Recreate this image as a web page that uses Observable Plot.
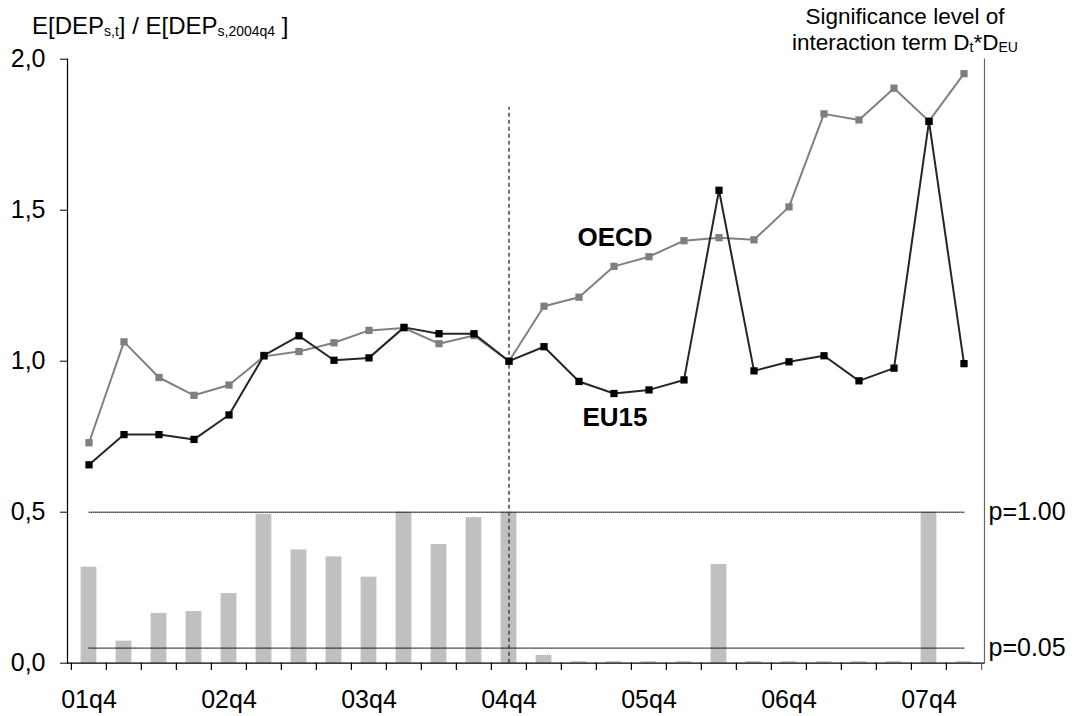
<!DOCTYPE html>
<html>
<head>
<meta charset="utf-8">
<script src="https://cdn.jsdelivr.net/npm/d3@7"></script>
<script src="https://cdn.jsdelivr.net/npm/@observablehq/plot@0.6"></script>
<style>
  html, body { margin: 0; padding: 0; background: #fff; }
  #wrap { position: relative; width: 1074px; height: 716px; font-family: Arial, "Liberation Sans", sans-serif; color: #000; }
  #chart { position: absolute; left: 0; top: 0; }
  .hdr { position: absolute; white-space: nowrap; line-height: 20px; }
  .sub { font-size: 14px; vertical-align: -2px; display: inline-block; line-height: 12px; }
</style>
</head>
<body>
<div id="wrap">
  <div id="chart"></div>
  <div class="hdr" style="left:32px; top:16px; font-size:24px;">E[DEP<span class="sub">s,t</span>] / E[DEP<span class="sub">s,2004q4</span> ]</div>
  <div class="hdr" style="left:755px; width:300px; text-align:center; top:7px; font-size:22.5px; line-height:20px;">Significance level of</div>
  <div class="hdr" style="left:755px; width:300px; text-align:center; top:33px; font-size:22.5px; line-height:20px;">interaction term D<span class="sub">t</span>*D<span class="sub">EU</span></div>
</div>
<script>
const quarters = ["01q4","02q1","02q2","02q3","02q4","03q1","03q2","03q3","03q4","04q1","04q2","04q3","04q4",
                  "05q1","05q2","05q3","05q4","06q1","06q2","06q3","06q4","07q1","07q2","07q3","07q4","08q1"];
const oecd = [0.730,1.064,0.946,0.887,0.921,1.016,1.032,1.061,1.102,1.110,1.058,1.085,1.000,
              1.182,1.212,1.314,1.346,1.399,1.409,1.402,1.511,1.819,1.799,1.904,1.795,1.952];
const eu15 = [0.657,0.757,0.757,0.741,0.822,1.019,1.084,1.003,1.011,1.112,1.091,1.091,1.000,
              1.048,0.933,0.893,0.905,0.938,1.566,0.968,0.998,1.018,0.935,0.977,1.794,0.992];
// significance bars, in left-axis units (0.5 = p=1.00)
const signif = [0.318,0.073,0.165,0.171,0.231,0.493,0.375,0.352,0.285,0.500,0.393,0.482,0.500,
                0.026,0.005,0.005,0.005,0.005,0.327,0.005,0.005,0.005,0.005,0.005,0.500,0.005];
const yTicks = [0, 0.5, 1, 1.5, 2];
const xLabels = quarters.filter(q => q.endsWith("q4"));
const refLevels = [{y: 0.5, label: "p=1.00"}, {y: 0.05, label: "p=0.05"}];
const baseQuarter = "04q4";
const baseLineTop = 1.84;
const seriesLabels = [{q: "05q3", y: 1.408, text: "OECD"}, {q: "05q3", y: 0.812, text: "EU15"}];

const W = 1074, H = 716, mL = 67, mR = 90, mT = 58.7, mB = 53.3;
const bw = (W - mL - mR) / quarters.length;

const oecdData = quarters.map((q, i) => ({q, v: oecd[i]}));
const euData = quarters.map((q, i) => ({q, v: eu15[i]}));
const barData = quarters.map((q, i) => ({q, v: signif[i]}));
const refLines = refLevels.flatMap(r => [{q: quarters[0], y: r.y, k: r.label}, {q: quarters[quarters.length - 1], y: r.y, k: r.label}]);

const chart = Plot.plot({
  width: W, height: H,
  marginLeft: mL, marginRight: mR, marginTop: mT, marginBottom: mB,
  style: {fontFamily: 'Arial, "Liberation Sans", sans-serif', fontSize: "25px", color: "#000", background: "#fff"},
  x: {type: "band", domain: quarters, padding: 0},
  y: {domain: [0, 2]},
  marks: [
    Plot.barY(barData, {x: "q", y: "v", fill: "#c0c0c0", insetLeft: 9.6, insetRight: 9.6}),
    Plot.line(refLines, {x: "q", y: "y", z: "k", stroke: "#000", strokeWidth: 1, strokeDasharray: "1,1"}),
    Plot.ruleX([baseQuarter], {x: d => d, y1: 0, y2: baseLineTop, stroke: "#444", strokeWidth: 1.5, strokeDasharray: "4,3"}),
    Plot.frame({anchor: "left", stroke: "#000", strokeWidth: 1.2}),
    Plot.frame({anchor: "right", stroke: "#666", strokeWidth: 1.2}),
    Plot.ruleY([0], {stroke: "#000", strokeWidth: 1.2}),
    Plot.ruleX(quarters, {x: d => d, y1: 0, y2: -0.024, dx: -bw / 2, stroke: "#000", strokeWidth: 1.2}),
    Plot.ruleX([quarters[quarters.length - 1]], {x: d => d, y1: 0, y2: -0.024, dx: bw / 2, stroke: "#666", strokeWidth: 1.2}),
    Plot.axisY({ticks: yTicks, tickFormat: d => d.toFixed(1).replace(".", ","), tickSize: 7, tickPadding: 15, fontSize: 25, label: null, stroke: "#000"}),
    Plot.axisX({ticks: xLabels, tickSize: 0, tickPadding: 27, fontSize: 25, label: null}),
    Plot.text(refLevels, {y: "y", text: "label", frameAnchor: "right", dx: 4, textAnchor: "start", fontSize: 25}),
    Plot.line(oecdData, {x: "q", y: "v", stroke: "#808080", strokeWidth: 2}),
    Plot.dot(oecdData, {x: "q", y: "v", symbol: "square", r: 4.1, fill: "#7f7f7f", stroke: "none"}),
    Plot.line(euData, {x: "q", y: "v", stroke: "#262626", strokeWidth: 2}),
    Plot.dot(euData, {x: "q", y: "v", symbol: "square", r: 4.1, fill: "#000", stroke: "none"}),
    Plot.text(seriesLabels, {x: "q", y: "y", text: "text", fontWeight: "bold", fontSize: 26, dx: 1})
  ]
});
document.getElementById("chart").appendChild(chart);
</script>
</body>
</html>
